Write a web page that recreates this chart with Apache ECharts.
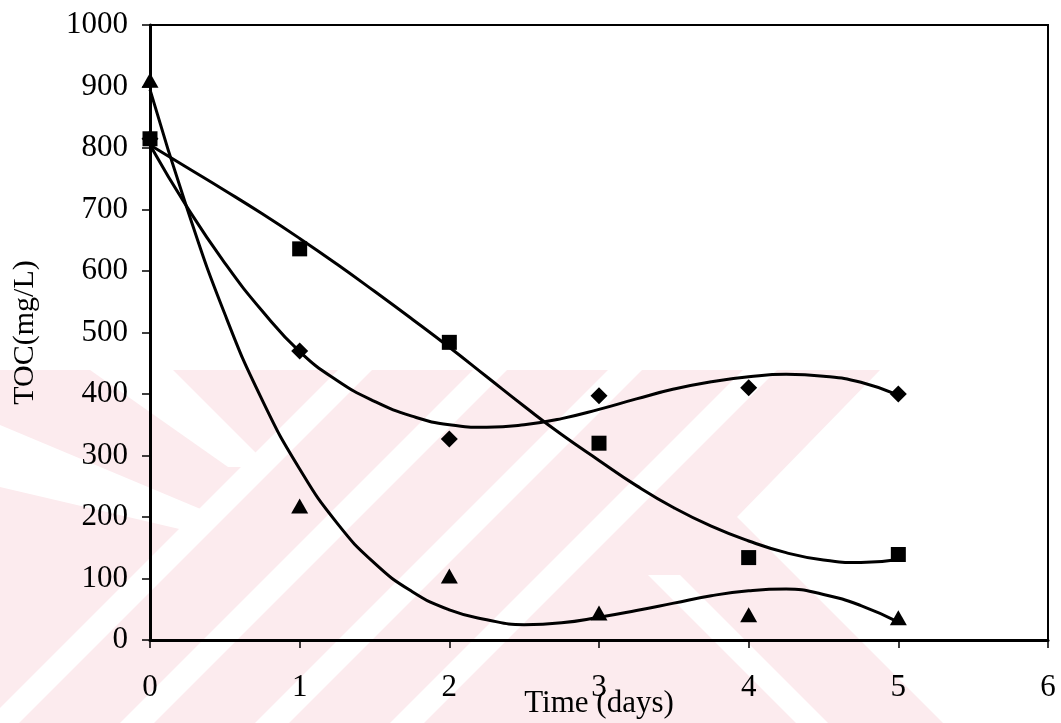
<!DOCTYPE html>
<html lang="en">
<head>
    <meta charset="UTF-8">
    <title>TOC</title>
    <script src="https://cdn.jsdelivr.net/npm/echarts@6/dist/echarts.min.js"></script>
</head>
<body style="margin:0;background:#fff">
    <div id="main" style="width:1061px;height:723px;"></div>
    <script type="text/javascript">
        // measured points
        var days = [0, 1, 2, 3, 4, 5];
        var tocSquare = [815, 636, 484, 320, 134, 139];
        var tocDiamond = [815, 470, 327, 397, 410, 400];
        var tocTriangle = [910, 218, 104, 44, 41, 36];

        // trend curves, every quarter day
        var trendDays = [0, 0.25, 0.5, 0.75, 1, 1.25, 1.5, 1.75, 2, 2.25, 2.5,
                         2.75, 3, 3.25, 3.5, 3.75, 4, 4.25, 4.5, 4.75, 5];
        var trendSquare = [805, 768, 731, 693, 653, 611, 567, 522, 476, 428, 380,
                           334, 292, 251, 215, 185, 161, 142, 130, 126, 131];
        var trendDiamond = [805, 703, 613, 535, 469, 422, 388, 364, 350, 346, 350,
                            360, 375, 392, 408, 420, 428, 432, 429, 419, 398];
        var trendTriangle = [895, 700, 530, 390, 278, 190, 125, 79, 49, 33, 25,
                             28, 37, 48, 60, 72, 80, 83, 74, 56, 29];

        var xTicks = [0, 6, 1];
        var yTicks = [0, 1000, 100];

        function pairs(xs, ys) {
            var out = [];
            for (var i = 0; i < xs.length; i++) out.push([xs[i], ys[i]]);
            return out;
        }

        // faint pink stripe watermark behind the chart
        var PINK = '#fcebee';
        function poly(pts, fill, z) {
            return { type: 'polygon', silent: true, z: z, shape: { points: pts }, style: { fill: fill } };
        }
        var marks = [poly([[0, 370], [880, 370], [737, 517], [943, 723], [0, 723]], PINK, -20)];
        // "/" white stripes at 45 deg, given by x + y of their centre line
        [725, 860, 995, 1130].forEach(function (s) {
            var w = 17;
            marks.push(poly([[s - w - 370, 370], [s + w - 370, 370], [s + w - 723, 723], [s - w - 723, 723]], '#fff', -10));
        });
        // "\" white stripes
        marks.push(poly([[90, 370], [173, 370], [270, 467], [228, 467]], '#fff', -10));
        marks.push(poly([[0, 425], [0, 487], [205, 535], [222, 518]], '#fff', -10));
        marks.push(poly([[648, 575], [680, 575], [828, 723], [796, 723]], '#fff', -10));

        var myChart = echarts.init(document.getElementById('main'));
        var font = 'Liberation Serif';

        var option = {
            backgroundColor: '#fff',
            animation: false,
            graphic: { elements: marks },
            grid: {
                left: 150, right: 13, top: 25, bottom: 83,
                outerBoundsMode: 'none', containLabel: false,
                show: true, borderColor: '#000', borderWidth: 2, backgroundColor: 'transparent'
            },
            xAxis: {
                type: 'value', min: xTicks[0], max: xTicks[1], interval: xTicks[2],
                name: 'Time (days)', nameLocation: 'middle', nameGap: 48, nameMoveOverlap: false,
                nameTextStyle: { fontFamily: font, fontSize: 31, color: '#000' },
                axisLine: { lineStyle: { color: '#000', width: 3 } },
                axisTick: { length: 8, lineStyle: { color: '#000', width: 1.5 } },
                axisLabel: { fontFamily: font, fontSize: 31, color: '#000', margin: 32 },
                splitLine: { show: false }
            },
            yAxis: {
                type: 'value', min: yTicks[0], max: yTicks[1], interval: yTicks[2],
                name: 'TOC(mg/L)', nameLocation: 'middle', nameGap: 110, nameRotate: 90, nameMoveOverlap: false,
                nameTextStyle: { fontFamily: font, fontSize: 30, color: '#000' },
                axisLine: { lineStyle: { color: '#000', width: 3 } },
                axisTick: { length: 8, lineStyle: { color: '#000', width: 1.5 } },
                axisLabel: {
                    fontFamily: font, fontSize: 31, color: '#000', margin: 22,
                    formatter: function (v) { return String(v); }
                },
                splitLine: { show: false }
            },
            series: [
                { type: 'line', data: pairs(trendDays, trendSquare), smooth: 0.5, showSymbol: false, lineStyle: { color: '#000', width: 3 }, z: 3 },
                { type: 'line', data: pairs(trendDays, trendDiamond), smooth: 0.5, showSymbol: false, lineStyle: { color: '#000', width: 3 }, z: 3 },
                { type: 'line', data: pairs(trendDays, trendTriangle), smooth: 0.5, showSymbol: false, lineStyle: { color: '#000', width: 3 }, z: 3 },
                { type: 'scatter', data: pairs(days, tocDiamond), symbol: 'diamond', symbolSize: [17, 17], itemStyle: { color: '#000', opacity: 1 }, z: 4 },
                { type: 'scatter', data: pairs(days, tocTriangle), symbol: 'triangle', symbolSize: [17, 15], itemStyle: { color: '#000', opacity: 1 }, z: 4 },
                { type: 'scatter', data: pairs(days, tocSquare), symbol: 'rect', symbolSize: 15, itemStyle: { color: '#000', opacity: 1 }, z: 5 }
            ]
        };

        myChart.setOption(option);
    </script>
</body>
</html>
